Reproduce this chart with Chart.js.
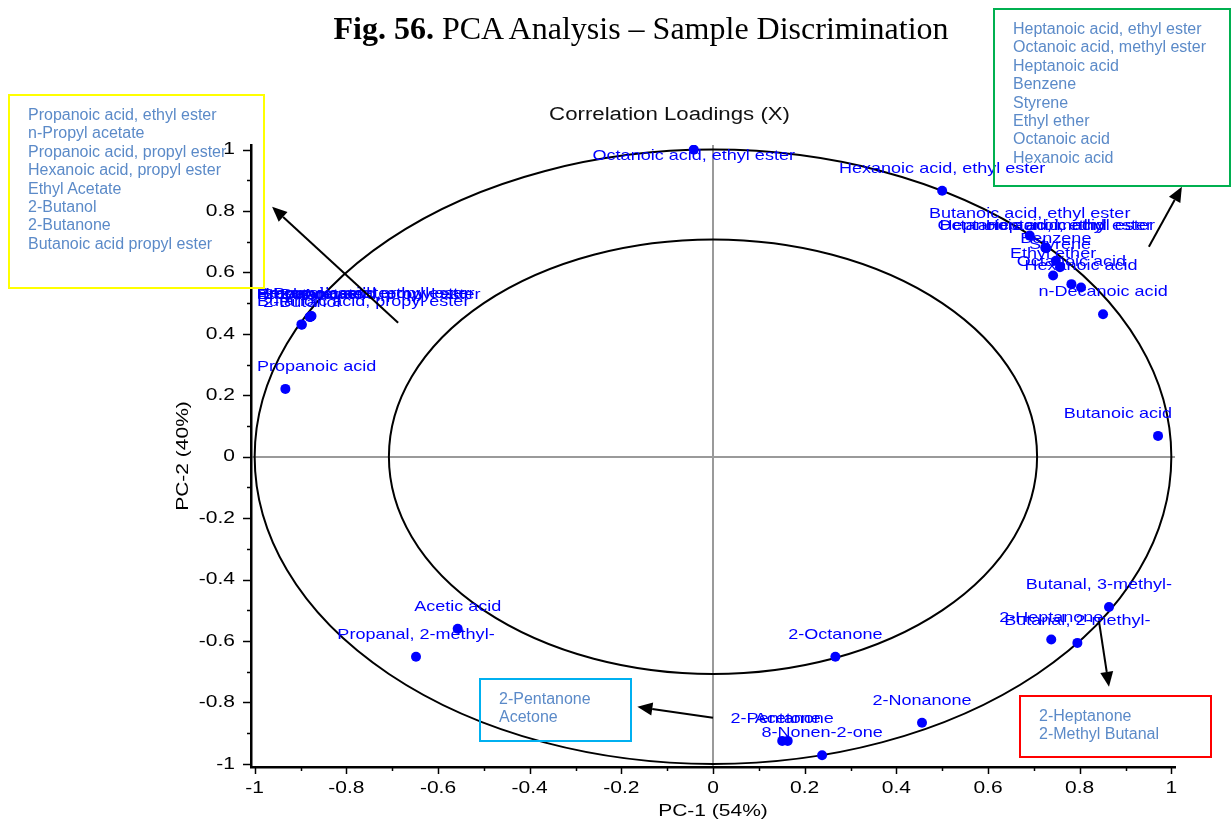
<!DOCTYPE html>
<html>
<head>
<meta charset="utf-8">
<script src="https://cdn.jsdelivr.net/npm/chart.js@4.4.1/dist/chart.umd.min.js"></script>
<style>
  html, body { margin: 0; padding: 0; background: #fff; }
  #wrap { position: relative; width: 1232px; height: 828px; overflow: hidden; }
  #c { position: absolute; left: 0; top: 0; }
  .fig { position: absolute; left: 0; width: 1282px; top: 8px; text-align: center; white-space: nowrap;
         font-family: "Liberation Serif", "Times New Roman", serif; font-size: 32px; color: #000; line-height: 40px; }
  .sub { position: absolute; left: 470px; width: 400px; top: 102px; text-align: center;
         font-family: "Liberation Sans", Arial, sans-serif; font-size: 18px; color: #111; line-height: 24px; }
  .st { display: inline-block; transform: scaleX(1.235); transform-origin: center top; white-space: nowrap; }
  .box { position: absolute; box-sizing: border-box; border: 2px solid; padding: 10px 0 0 18px; }
  .box .in { font-family: "Liberation Sans", Arial, sans-serif; font-size: 16px; line-height: 18.4px; color: #5b8ac8;
             white-space: nowrap; }
</style>
</head>
<body>
<div id="wrap">
  <canvas id="c" width="1232" height="828"></canvas>
  <div class="fig"><b>Fig. 56.</b> PCA Analysis – Sample Discrimination</div>
  <div class="sub"><span class="st">Correlation Loadings (X)</span></div>
  <div class="box" style="left:8px;top:94px;width:257px;height:195px;border-color:#ffff00;"><div class="in">Propanoic acid, ethyl ester<br>n-Propyl acetate<br>Propanoic acid, propyl ester<br>Hexanoic acid, propyl ester<br>Ethyl Acetate<br>2-Butanol<br>2-Butanone<br>Butanoic acid propyl ester</div></div>
  <div class="box" style="left:993px;top:8px;width:238px;height:179px;border-color:#00b050;"><div class="in">Heptanoic acid, ethyl ester<br>Octanoic acid, methyl ester<br>Heptanoic acid<br>Benzene<br>Styrene<br>Ethyl ether<br>Octanoic acid<br>Hexanoic acid</div></div>
  <div class="box" style="left:479px;top:678px;width:153px;height:64px;border-color:#00b0f0;"><div class="in">2-Pentanone<br>Acetone</div></div>
  <div class="box" style="left:1019px;top:695px;width:193px;height:63px;border-color:#ff0000;"><div class="in">2-Heptanone<br>2-Methyl Butanal</div></div>
</div>
<script>
// ---- data ----
const compounds = [
  "Octanoic acid, ethyl ester", "Hexanoic acid, ethyl ester", "Butanoic acid, ethyl ester",
  "Heptanoic acid, ethyl ester", "Octanoic acid, methyl ester", "Heptanoic acid",
  "Benzene", "Styrene", "Ethyl ether", "Octanoic acid", "Hexanoic acid", "n-Decanoic acid",
  "Butanoic acid",
  "Propanoic acid, ethyl ester", "n-Propyl acetate", "Propanoic acid, propyl ester",
  "Hexanoic acid, propyl ester", "Ethyl Acetate", "2-Butanone", "2-Butanol",
  "Butanoic acid, propyl ester", "Propanoic acid",
  "Acetic acid", "Propanal, 2-methyl-", "2-Octanone", "2-Nonanone",
  "2-Pentanone", "Acetone", "8-Nonen-2-one",
  "Butanal, 3-methyl-", "2-Heptanone", "Butanal, 2-methyl-"
];
const pc1 = [
  -0.042, 0.500, 0.691,
  0.726, 0.727, 0.725,
  0.748, 0.757, 0.742, 0.782, 0.803, 0.851,
  0.971,
  -0.878, -0.876, -0.879,
  -0.877, -0.880, -0.878, -0.897,
  -0.898, -0.933,
  -0.557, -0.648, 0.267, 0.456,
  0.151, 0.163, 0.238,
  0.864, 0.738, 0.795
];
const pc2 = [
  1.000, 0.866, 0.720,
  0.680, 0.679, 0.681,
  0.638, 0.617, 0.590, 0.562, 0.551, 0.464,
  0.068,
  0.457, 0.458, 0.456,
  0.457, 0.455, 0.456, 0.430,
  0.431, 0.221,
  -0.560, -0.651, -0.651, -0.866,
  -0.925, -0.925, -0.972,
  -0.489, -0.595, -0.606
];
const axisTicks = [-1, -0.9, -0.8, -0.7, -0.6, -0.5, -0.4, -0.3, -0.2, -0.1, 0,
                   0.1, 0.2, 0.3, 0.4, 0.5, 0.6, 0.7, 0.8, 0.9, 1];
const circleRadii = [1, Math.SQRT1_2];
// annotation arrows [fromX, fromY, toX, toY] in loading units
const arrowFromX = [-0.687, 0.951, 0.000, 0.842];
const arrowFromY = [0.436, 0.684, -0.850, -0.534];
const arrowToX   = [-0.962, 1.023, -0.165, 0.864];
const arrowToY   = [0.814, 0.879, -0.814, -0.749];

const LABEL_FONT = '14.6px "Liberation Sans", Arial, sans-serif';
const TICK_FONT = { family: '"Liberation Sans", Arial, sans-serif', size: 17 };

// the chart in the reference is horizontally stretched: draw canvas text with the same stretch
const canvas = document.getElementById('c');
const c2d = canvas.getContext('2d');
const STRETCH = 1.235;
const origFill = CanvasRenderingContext2D.prototype.fillText;
const origMeasure = CanvasRenderingContext2D.prototype.measureText;
c2d.fillText = function (text, x, y, maxWidth) {
  this.save();
  this.translate(x, y);
  this.scale(STRETCH, 1);
  if (maxWidth !== undefined) origFill.call(this, text, 0, 0, maxWidth / STRETCH);
  else origFill.call(this, text, 0, 0);
  this.restore();
};
c2d.measureText = function (text) {
  const m = origMeasure.call(this, text);
  return {
    width: m.width * STRETCH,
    actualBoundingBoxLeft: m.actualBoundingBoxLeft * STRETCH,
    actualBoundingBoxRight: m.actualBoundingBoxRight * STRETCH,
    actualBoundingBoxAscent: m.actualBoundingBoxAscent,
    actualBoundingBoxDescent: m.actualBoundingBoxDescent,
    fontBoundingBoxAscent: m.fontBoundingBoxAscent,
    fontBoundingBoxDescent: m.fontBoundingBoxDescent
  };
};

const overlay = {
  id: 'overlay',
  beforeDatasetsDraw(chart) {
    const { ctx, scales: { x, y } } = chart;
    const cx = x.getPixelForValue(0), cy = y.getPixelForValue(0);
    ctx.save();
    ctx.strokeStyle = '#000';
    ctx.lineWidth = 2;
    circleRadii.forEach(r => {
      const rx = x.getPixelForValue(r) - cx, ry = cy - y.getPixelForValue(r);
      ctx.beginPath();
      ctx.ellipse(cx, cy, rx, ry, 0, 0, Math.PI * 2);
      ctx.stroke();
    });
    ctx.restore();
  },
  afterDatasetsDraw(chart) {
    const { ctx, chartArea } = chart;
    const meta = chart.getDatasetMeta(0);
    ctx.save();
    ctx.font = LABEL_FONT;
    ctx.fillStyle = '#0000ff';
    ctx.textBaseline = 'middle';
    ctx.textAlign = 'left';
    meta.data.forEach((el, i) => {
      const t = compounds[i];
      const w = ctx.measureText(t).width;
      let lx = el.x - w / 2;
      if (lx < chartArea.left + 6) lx = chartArea.left + 6;
      if (lx + w > chartArea.right - 3) lx = chartArea.right - 3 - w;
      let ly = el.y - 22;
      if (ly < chartArea.top + 11) ly = chartArea.top + 11;
      ctx.fillText(t, lx, ly);
    });
    ctx.restore();
  },
  afterDraw(chart) {
    const { ctx, chartArea, scales: { x, y } } = chart;
    ctx.save();
    ctx.strokeStyle = '#000';
    ctx.lineWidth = 1.5;
    // tick marks (major every 0.2, minor every 0.1)
    axisTicks.forEach((v, i) => {
      const major = i % 2 === 0;
      const px = Math.round(x.getPixelForValue(v)) + 0.5;
      ctx.beginPath();
      ctx.moveTo(px, chartArea.bottom);
      ctx.lineTo(px, chartArea.bottom + (major ? 7 : 4));
      ctx.stroke();
      const py = Math.round(y.getPixelForValue(v)) + 0.5;
      ctx.beginPath();
      ctx.moveTo(chartArea.left, py);
      ctx.lineTo(chartArea.left - (major ? 8 : 4), py);
      ctx.stroke();
    });
    // arrows
    ctx.lineWidth = 2;
    ctx.fillStyle = '#000';
    arrowFromX.forEach((fx, i) => {
      const x0 = x.getPixelForValue(fx), y0 = y.getPixelForValue(arrowFromY[i]);
      const x1 = x.getPixelForValue(arrowToX[i]), y1 = y.getPixelForValue(arrowToY[i]);
      const a = Math.atan2(y1 - y0, x1 - x0);
      const L = 15, W = 6.5;
      const bx = x1 - L * Math.cos(a), by = y1 - L * Math.sin(a);
      ctx.beginPath();
      ctx.moveTo(x0, y0);
      ctx.lineTo(bx, by);
      ctx.stroke();
      ctx.beginPath();
      ctx.moveTo(x1, y1);
      ctx.lineTo(bx + W * Math.sin(a), by - W * Math.cos(a));
      ctx.lineTo(bx - W * Math.sin(a), by + W * Math.cos(a));
      ctx.closePath();
      ctx.fill();
    });
    ctx.restore();
  }
};

const gridCfg = {
  drawTicks: false,
  lineWidth: 2,
  color: c => (c.tick && Math.abs(c.tick.value) < 1e-9) ? '#9a9a9a' : 'rgba(0,0,0,0)'
};
const labelCb = v => (Math.round(v * 10) % 2 === 0) ? String(Math.round(v * 10) / 10) : '';

new Chart(canvas, {
  type: 'scatter',
  data: {
    datasets: [{
      data: compounds.map((n, i) => ({ x: pc1[i], y: pc2[i] })),
      backgroundColor: '#0000ff',
      borderWidth: 0,
      pointRadius: 5,
      pointHoverRadius: 5
    }]
  },
  options: {
    responsive: false,
    animation: false,
    devicePixelRatio: 1,
    layout: { padding: { left: 160, right: 57, top: 145, bottom: 0 } },
    plugins: { legend: { display: false }, tooltip: { enabled: false }, title: { display: false } },
    scales: {
      x: {
        type: 'linear', min: -1.008, max: 1.008,
        afterBuildTicks: s => { s.ticks = axisTicks.map(v => ({ value: v })); },
        afterFit: s => { s.height = 61; },
        grid: gridCfg,
        border: { display: true, color: '#000', width: 2.5 },
        ticks: { autoSkip: false, maxRotation: 0, padding: 11, color: '#000', font: TICK_FONT, callback: labelCb },
        title: { display: true, text: 'PC-1 (54%)', color: '#000', font: TICK_FONT, padding: { top: 0, bottom: 6 } }
      },
      y: {
        type: 'linear', min: -1.01, max: 1.015,
        afterBuildTicks: s => { s.ticks = axisTicks.map(v => ({ value: v })); },
        afterFit: s => { s.width = 91; },
        grid: gridCfg,
        border: { display: true, color: '#000', width: 2.5 },
        ticks: { autoSkip: false, padding: 16, color: '#000', font: TICK_FONT, callback: labelCb },
        title: { display: true, text: 'PC-2 (40%)', color: '#000', font: TICK_FONT, padding: { top: 13, bottom: 0 } }
      }
    }
  },
  plugins: [overlay]
});
</script>
</body>
</html>
